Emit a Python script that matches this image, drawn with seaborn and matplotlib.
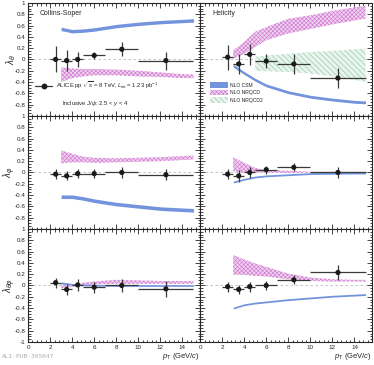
import numpy as np
import pandas as pd
import seaborn as sns
import matplotlib.pyplot as plt
from matplotlib.lines import Line2D
from matplotlib.patches import Patch
from matplotlib.ticker import MultipleLocator

# -------------------------------------------------
# Data
# -------------------------------------------------
pt = [2.5, 3.5, 4.5, 6.0, 8.5, 12.5]
pt_err = [0.5, 0.5, 0.5, 1.0, 1.5, 2.5]

cs_lth = [0.0, -0.02, 0.0, 0.07, 0.18, -0.02]
cs_lth_err = [0.23, 0.19, 0.14, 0.06, 0.12, 0.16]
hx_lth = [0.04, -0.08, 0.09, -0.03, -0.08, -0.33]
hx_lth_err = [0.22, 0.18, 0.19, 0.13, 0.18, 0.17]
cs_lph = [-0.03, -0.06, -0.02, -0.02, 0.0, -0.04]
cs_lph_err = [0.09, 0.08, 0.08, 0.08, 0.09, 0.10]
hx_lph = [-0.03, -0.06, 0.0, 0.05, 0.09, 0.0]
hx_lph_err = [0.09, 0.10, 0.10, 0.07, 0.07, 0.09]
cs_ltp = [0.05, -0.07, 0.01, -0.03, 0.0, -0.06]
cs_ltp_err = [0.09, 0.10, 0.10, 0.10, 0.11, 0.14]
hx_ltp = [-0.02, -0.07, -0.02, 0.0, 0.10, 0.23]
hx_ltp_err = [0.09, 0.08, 0.09, 0.08, 0.08, 0.13]

# model curves
pt_mod = [3, 4, 5, 6, 8, 10, 12, 14, 15]
pt_nrqcd2 = [5, 6, 8, 10, 12, 14, 15]

csm_cs_lth = [0.54, 0.50, 0.51, 0.53, 0.59, 0.63, 0.66, 0.68, 0.69]
csm_hx_lth = [-0.11, -0.24, -0.36, -0.46, -0.58, -0.66, -0.71, -0.75, -0.76]
csm_cs_lph = [-0.43, -0.43, -0.46, -0.50, -0.56, -0.60, -0.64, -0.66, -0.67]
csm_hx_lph = [-0.17, -0.12, -0.08, -0.06, -0.04, -0.02, -0.015, -0.01, -0.01]
csm_cs_ltp = [0.05, 0.02, 0.01, 0.005, 0.0, 0.0, 0.0, 0.0, 0.0]
csm_hx_ltp = [-0.40, -0.34, -0.31, -0.29, -0.25, -0.22, -0.19, -0.17, -0.16]
csm_halfwidth = [0.03, 0.025, 0.032, 0.016, 0.015, 0.016]

nrqcd_cs_lth_lo = [-0.40, -0.33, -0.30, -0.28, -0.28, -0.30, -0.31, -0.33, -0.33]
nrqcd_cs_lth_hi = [-0.14, -0.16, -0.17, -0.17, -0.18, -0.20, -0.23, -0.26, -0.27]
nrqcd_hx_lth_lo = [0.01, 0.10, 0.22, 0.34, 0.46, 0.54, 0.62, 0.69, 0.72]
nrqcd_hx_lth_hi = [0.16, 0.31, 0.49, 0.57, 0.72, 0.78, 0.86, 0.92, 0.95]
nrqcd_cs_lph_lo = [0.16, 0.18, 0.18, 0.17, 0.18, 0.19, 0.20, 0.22, 0.23]
nrqcd_cs_lph_hi = [0.39, 0.33, 0.28, 0.26, 0.25, 0.26, 0.27, 0.29, 0.30]
nrqcd_hx_lph_lo = [0.02, 0.0, 0.0, 0.0, -0.01, 0.0, -0.01, -0.01, -0.01]
nrqcd_hx_lph_hi = [0.27, 0.17, 0.08, 0.04, 0.03, 0.01, 0.01, 0.01, 0.01]
nrqcd_cs_ltp_lo = [-0.05, -0.02, 0.0, 0.02, 0.03, 0.03, 0.03, 0.03, 0.03]
nrqcd_cs_ltp_hi = [0.04, 0.02, 0.05, 0.07, 0.10, 0.09, 0.08, 0.08, 0.08]
nrqcd_hx_ltp_lo = [0.19, 0.19, 0.17, 0.16, 0.11, 0.08, 0.07, 0.07, 0.07]
nrqcd_hx_ltp_hi = [0.54, 0.46, 0.39, 0.33, 0.21, 0.14, 0.11, 0.10, 0.10]

nrqcd2_hx_lth_lo = [-0.20, -0.21, -0.22, -0.25, -0.30, -0.36, -0.40]
nrqcd2_hx_lth_hi = [0.05, 0.07, 0.10, 0.13, 0.15, 0.18, 0.19]

ylabels = [r"$\lambda_{\theta}$", r"$\lambda_{\varphi}$", r"$\lambda_{\theta\varphi}$"]
frame_titles = ["Collins-Soper", "Helicity"]

# -------------------------------------------------
# Style
# -------------------------------------------------
sns.set_style("ticks")
plt.rcParams["font.family"] = ["Liberation Sans", "DejaVu Sans"]
plt.rcParams["mathtext.fontset"] = "custom"
plt.rcParams["mathtext.rm"] = "Liberation Sans"
plt.rcParams["mathtext.it"] = "Liberation Sans:italic"
plt.rcParams["mathtext.bf"] = "Liberation Sans:bold"
plt.rcParams["axes.unicode_minus"] = False
plt.rcParams["hatch.linewidth"] = 0.45

C_CSM = "#7394dc"
C_NRQCD = "#d07ad0"
F_NRQCD = "#f1d4f1"
C_NRQCD2 = "#8fcaa9"
F_NRQCD2 = "#e8f4ed"
H_NRQCD = "xxxxxxxx"
H_NRQCD2 = "\\\\\\\\\\\\"

fig, axes = plt.subplots(3, 2, figsize=(3.74, 3.65), dpi=100, sharex=True)
fig.subplots_adjust(left=0.075, right=0.995, bottom=0.063, top=0.992, wspace=0, hspace=0)

points = [
    [(cs_lth, cs_lth_err), (hx_lth, hx_lth_err)],
    [(cs_lph, cs_lph_err), (hx_lph, hx_lph_err)],
    [(cs_ltp, cs_ltp_err), (hx_ltp, hx_ltp_err)],
]
csm = [[csm_cs_lth, csm_hx_lth], [csm_cs_lph, csm_hx_lph], [csm_cs_ltp, csm_hx_ltp]]
nrqcd = [
    [(nrqcd_cs_lth_lo, nrqcd_cs_lth_hi), (nrqcd_hx_lth_lo, nrqcd_hx_lth_hi)],
    [(nrqcd_cs_lph_lo, nrqcd_cs_lph_hi), (nrqcd_hx_lph_lo, nrqcd_hx_lph_hi)],
    [(nrqcd_cs_ltp_lo, nrqcd_cs_ltp_hi), (nrqcd_hx_ltp_lo, nrqcd_hx_ltp_hi)],
]

yt = np.round(np.arange(-1, 1.01, 0.2), 1)

def fmt(v):
    if abs(v) < 1e-9:
        return "0"
    if abs(abs(v) - 1) < 1e-9:
        return "%d" % v
    return ("%.1f" % v)

for r in range(3):
    for c in range(2):
        ax = axes[r, c]
        x_mod = np.array(pt_mod)
        # NRQCD band
        lo, hi = nrqcd[r][c]
        ax.fill_between(x_mod, lo, hi, facecolor=F_NRQCD, edgecolor=C_NRQCD,
                        hatch=H_NRQCD, linewidth=0, zorder=2)
        # NRQCD2 band (helicity lambda_theta only)
        if r == 0 and c == 1:
            ax.fill_between(pt_nrqcd2, nrqcd2_hx_lth_lo, nrqcd2_hx_lth_hi,
                            facecolor=F_NRQCD2, edgecolor=C_NRQCD2,
                            hatch=H_NRQCD2, linewidth=0, zorder=1)
        # CSM band
        cen = np.array(csm[r][c])
        hw = csm_halfwidth[r * 2 + c]
        ax.fill_between(x_mod, cen - hw, cen + hw, color=C_CSM, linewidth=0, zorder=3)

        # zero line
        ax.axhline(0, color="#bbbbbb", lw=0.6, ls=(0, (3, 3)), zorder=0)

        # data
        y, ye = points[r][c]
        ax.errorbar(pt, y, xerr=pt_err, yerr=ye, fmt="none", ecolor="#3a3a3a",
                    elinewidth=0.9, capsize=0, zorder=4)
        df = pd.DataFrame({"pt": pt, "val": y})
        sns.scatterplot(data=df, x="pt", y="val", ax=ax, color="#1a1a1a", s=14,
                        edgecolor="none", zorder=5, legend=False)

        ax.set_xlim(0, 15.6)
        ax.set_ylim(-1, 1)
        ax.set_xlabel("")
        ax.set_ylabel("")
        ax.xaxis.set_major_locator(MultipleLocator(2))
        ax.xaxis.set_minor_locator(MultipleLocator(0.4))
        ax.set_yticks(yt)
        ax.yaxis.set_minor_locator(MultipleLocator(0.05))
        ax.tick_params(which="both", direction="in", top=True, right=True,
                       width=0.6, labelsize=4.5, pad=2)
        ax.tick_params(which="major", length=3.5)
        ax.tick_params(which="minor", length=1.8)
        for s in ax.spines.values():
            s.set_linewidth(0.8)

        if c == 0:
            labs = [fmt(v) for v in yt]
            if r < 2:
                labs[0] = ""
            ax.set_yticklabels(labs)
            ax.set_ylabel(ylabels[r], fontsize=7, rotation=90)
            ax.yaxis.set_label_coords(-0.06, 0.5)
        else:
            ax.set_yticklabels([])
        if r == 2:
            ax.set_xticks(range(0, 15, 2))
            ax.set_xticklabels([str(v) for v in range(0, 15, 2)])
            ax.set_xlabel(r"$p_{\rm T}$ (GeV/$c$)", fontsize=5.5, loc="right", labelpad=1)
        if r == 0:
            ax.text(0.07, 0.905, frame_titles[c], transform=ax.transAxes,
                    fontsize=5, va="center")

# legend for the data points
h_data = Line2D([], [], color="#3a3a3a", lw=0.9, marker="o", markersize=3.2,
                markerfacecolor="#1a1a1a", markeredgecolor="#1a1a1a")
leg = axes[0, 0].legend([h_data],
                        [r"ALICE pp $\sqrt{s}$ = 8 TeV, $L_{\rm int}$ = 1.23 pb$^{-1}$"],
                        loc="upper left", bbox_to_anchor=(0.04, 0.32), frameon=False,
                        fontsize=4.2, handlelength=3.0, handletextpad=0.6,
                        borderaxespad=0, borderpad=0)
axes[0, 0].text(0.195, 0.11, r"Inclusive J/$\psi$: 2.5 < $y$ < 4",
                transform=axes[0, 0].transAxes, fontsize=4.2, va="center")

# legend for the models
h_mod = [
    Patch(facecolor=C_CSM, edgecolor="none"),
    Patch(facecolor=F_NRQCD, edgecolor=C_NRQCD, hatch=H_NRQCD, linewidth=0),
    Patch(facecolor=F_NRQCD2, edgecolor=C_NRQCD2, hatch=H_NRQCD2, linewidth=0),
]
axes[0, 1].legend(h_mod, ["NLO CSM", "NLO NRQCD", "NLO NRQCD2"], loc="upper left",
                  bbox_to_anchor=(0.06, 0.30), frameon=False, fontsize=3.6,
                  handlelength=3.5, handleheight=1.4, handletextpad=0.4,
                  labelspacing=0.35, borderaxespad=0, borderpad=0)

fig.text(0.005, 0.022, "ALI-PUB-305647", fontsize=4.5, color="#b0b0b0",
         family="DejaVu Sans Mono", va="center")

plt.savefig("out.png", dpi=100)
